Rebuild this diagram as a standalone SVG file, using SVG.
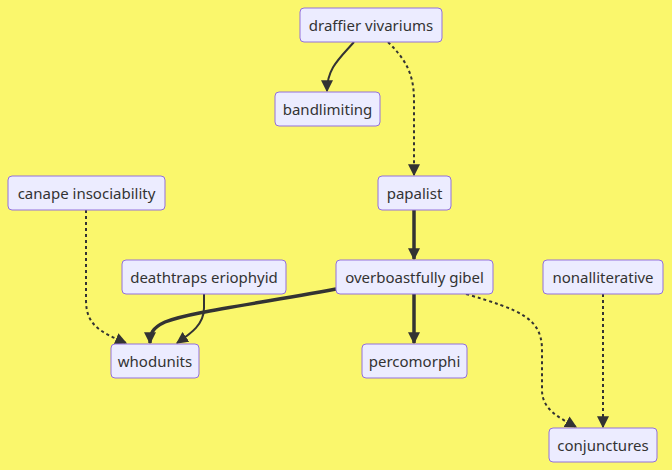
<svg xmlns="http://www.w3.org/2000/svg" width="672" height="470" viewBox="0 0 672 470">
<style>
.bg{fill:#faf76c}
.node rect{fill:#ececff;stroke:#9370db;stroke-width:1}
.node text{font-family:"Noto Sans","DejaVu Sans",sans-serif;font-size:15px;fill:#333;text-anchor:middle;dominant-baseline:central}
.e{fill:none;stroke:#333;stroke-width:2}
.thick{stroke-width:3.5}
.dot{stroke-dasharray:3 3}
</style>
<defs>
<marker id="ah" viewBox="0 0 10 10" refX="9" refY="5" markerWidth="12" markerHeight="12" markerUnits="userSpaceOnUse" orient="auto">
<path d="M0,0 L10,5 L0,10 z" fill="#333"/>
</marker>
</defs>
<rect class="bg" x="0" y="0" width="672" height="470"/>
<g id="edges">
<path class="e" d="M354,42 C340,58 327,68 327,91" marker-end="url(#ah)"/>
<path class="e dot" d="M388,42 C404,58 414,72 414,100 L414,175" marker-end="url(#ah)"/>
<path class="e thick" d="M414,210 L414,259" marker-end="url(#ah)"/>
<path class="e thick" d="M414,294 L414,343" marker-end="url(#ah)"/>
<path class="e dot" d="M466,294 C520,310 542,318 542,350 L542,390 C542,410 560,418 576,427" marker-end="url(#ah)"/>
<path class="e dot" d="M603,294 L603,427" marker-end="url(#ah)"/>
<path class="e dot" d="M86,210 L86,300 C86,325 100,332 126,343" marker-end="url(#ah)"/>
<path class="e" d="M204,294 L204,308 C204,325 190,334 177,343" marker-end="url(#ah)"/>
<path class="e thick" d="M336,289 C250,305 190,312 165,322 C152,328 150,334 150,343" marker-end="url(#ah)"/>
</g>
<g id="n-draffier" class="node"><rect x="300" y="8" width="142" height="34" rx="4"/><text x="371" y="25">draffier vivariums</text></g>
<g id="n-bandlimiting" class="node"><rect x="275" y="92" width="105" height="34" rx="4"/><text x="327.5" y="109">bandlimiting</text></g>
<g id="n-papalist" class="node"><rect x="378" y="176" width="73" height="34" rx="4"/><text x="414.5" y="193">papalist</text></g>
<g id="n-canape" class="node"><rect x="8" y="176" width="157" height="34" rx="4"/><text x="86.5" y="193">canape insociability</text></g>
<g id="n-deathtraps" class="node"><rect x="122" y="260" width="164" height="34" rx="4"/><text x="204" y="277">deathtraps eriophyid</text></g>
<g id="n-overboastfully" class="node"><rect x="336" y="260" width="157" height="34" rx="4"/><text x="414.5" y="277">overboastfully gibel</text></g>
<g id="n-nonalliterative" class="node"><rect x="543" y="260" width="120" height="34" rx="4"/><text x="603" y="277">nonalliterative</text></g>
<g id="n-whodunits" class="node"><rect x="111" y="344" width="88" height="34" rx="4"/><text x="155" y="361">whodunits</text></g>
<g id="n-percomorphi" class="node"><rect x="362" y="344" width="105" height="34" rx="4"/><text x="414.5" y="361">percomorphi</text></g>
<g id="n-conjunctures" class="node"><rect x="549" y="428" width="108" height="34" rx="4"/><text x="603" y="445">conjunctures</text></g>
</svg>
